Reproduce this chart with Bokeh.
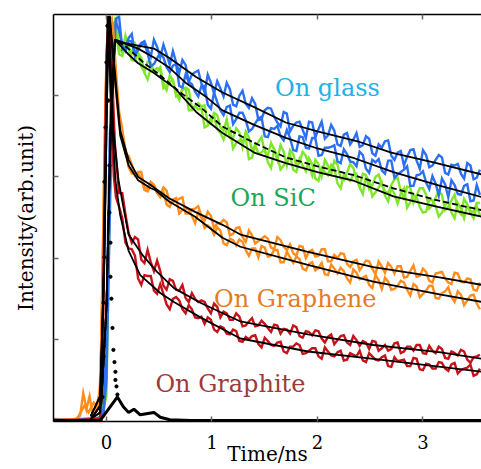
from bokeh.plotting import figure
from bokeh.models import Range1d, LinearAxis, FixedTicker, Label
from bokeh.embed import file_html
from bokeh.resources import INLINE

# ---------------- data (time in ns, intensity in arb. units) ----------------
GRID_T = [0.12, 0.18, 0.24, 0.30, 0.36, 0.42, 0.48, 0.54, 0.60, 0.66,
          0.72, 0.78, 0.84, 0.90, 0.96, 1.02, 1.08, 1.14, 1.20, 1.26,
          1.32, 1.38, 1.44, 1.50, 1.56, 1.62, 1.68, 1.74, 1.80, 1.86,
          1.92, 1.98, 2.04, 2.10, 2.16, 2.22, 2.28, 2.34, 2.40, 2.46,
          2.52, 2.58, 2.64, 2.70, 2.76, 2.82, 2.88, 2.94, 3.00, 3.06,
          3.12, 3.18, 3.24, 3.30, 3.36, 3.42, 3.48, 3.54]
MID_T = [0.15, 0.21, 0.27, 0.33, 0.39, 0.45, 0.51, 0.57, 0.63, 0.69,
         0.75, 0.81, 0.87, 0.93, 0.99, 1.05, 1.11, 1.17, 1.23, 1.29,
         1.35, 1.41, 1.47, 1.53, 1.59, 1.65, 1.71, 1.77, 1.83, 1.89,
         1.95, 2.01, 2.07, 2.13, 2.19, 2.25, 2.31, 2.37, 2.43, 2.49,
         2.55, 2.61, 2.67, 2.73, 2.79, 2.85, 2.91, 2.97, 3.03, 3.09,
         3.15, 3.21, 3.27, 3.33, 3.39, 3.45, 3.51]

# On glass (blue), two measurements
glass1_t0 = [-0.52, -0.3, -0.1, -0.03, 0.0, 0.03, 0.06, 0.09]
glass1_v0 = [0.02, 0.01, 0.03, 0.05, 0.5, 2.4, 4.2, 4.95]
glass1_v = [4.97, 4.59, 4.76, 4.60, 4.67, 4.48, 4.60, 4.63, 4.38, 4.41,
            4.44, 4.17, 4.29, 4.15, 4.26, 4.03, 4.09, 4.16, 3.89, 4.00,
            3.90, 3.97, 3.70, 3.82, 3.84, 3.67, 3.80, 3.56, 3.67, 3.58,
            3.68, 3.49, 3.68, 3.51, 3.57, 3.38, 3.54, 3.46, 3.37, 3.50,
            3.29, 3.40, 3.44, 3.26, 3.30, 3.14, 3.33, 3.20, 3.33, 3.12,
            3.21, 3.24, 3.03, 3.14, 3.04, 3.17, 2.97, 3.09]
glass1_m = [4.57, 4.71, 4.50, 4.65, 4.57, 4.69, 4.47, 4.51, 4.55, 4.28,
            4.38, 4.26, 4.31, 4.04, 4.16, 4.18, 3.99, 4.08, 3.87, 4.06,
            3.85, 3.90, 3.71, 3.85, 3.74, 3.62, 3.78, 3.63, 3.68, 3.48,
            3.67, 3.59, 3.47, 3.64, 3.40, 3.52, 3.40, 3.54, 3.39, 3.47,
            3.26, 3.36, 3.45, 3.21, 3.32, 3.25, 3.34, 3.10, 3.27, 3.14,
            3.27, 3.05, 3.15, 3.16, 2.98, 3.14, 2.99]
glass2_t0 = [-0.52, -0.25, -0.08, -0.03, 0.0, 0.03, 0.06, 0.09]
glass2_v0 = [0.01, 0.02, 0.02, 0.08, 1.2, 3.4, 4.7, 4.9]
glass2_v = [4.81, 4.55, 4.67, 4.57, 4.64, 4.36, 4.46, 4.47, 4.29, 4.39,
            4.10, 4.17, 4.05, 4.12, 3.89, 4.04, 3.82, 3.86, 3.65, 3.79,
            3.70, 3.59, 3.72, 3.50, 3.60, 3.63, 3.45, 3.48, 3.32, 3.49,
            3.35, 3.48, 3.27, 3.36, 3.39, 3.17, 3.28, 3.18, 3.31, 3.10,
            3.21, 3.22, 3.04, 3.20, 3.03, 3.09, 2.89, 3.02, 3.07, 2.85,
            2.92, 2.98, 2.75, 2.90, 2.78, 2.91, 2.71, 2.78]
glass2_m = [4.62, 4.67, 4.49, 4.63, 4.52, 4.39, 4.53, 4.35, 4.37, 4.12,
            4.26, 4.14, 3.99, 4.12, 3.84, 3.92, 3.76, 3.88, 3.71, 3.79,
            3.56, 3.66, 3.74, 3.49, 3.59, 3.50, 3.58, 3.33, 3.50, 3.36,
            3.48, 3.26, 3.36, 3.37, 3.19, 3.34, 3.19, 3.13, 3.27, 3.05,
            3.18, 3.08, 3.20, 2.99, 3.06, 3.13, 2.89, 3.03, 2.93, 3.01,
            2.77, 2.91, 2.96, 2.79, 2.89, 2.70, 2.90]

# On SiC (green)
sic1_t0 = [-0.52, -0.2, -0.05, 0.0, 0.02, 0.04, 0.07, 0.10]
sic1_v0 = [0.01, 0.01, 0.02, 0.3, 1.8, 3.5, 4.6, 4.9]
sic1_v = [4.58, 4.74, 4.52, 4.53, 4.29, 4.41, 4.29, 4.16, 4.25, 3.99,
          4.07, 4.07, 3.87, 3.87, 3.66, 3.79, 3.61, 3.71, 3.48, 3.55,
          3.56, 3.33, 3.43, 3.31, 3.42, 3.21, 3.31, 3.33, 3.14, 3.31,
          3.14, 3.21, 3.01, 3.14, 3.20, 2.98, 3.05, 3.11, 2.88, 3.02,
          2.90, 3.03, 2.82, 2.90, 2.99, 2.74, 2.87, 2.77, 2.86, 2.61,
          2.74, 2.78, 2.63, 2.78, 2.54, 2.66, 2.57, 2.68]
sic1_m = [4.53, 4.60, 4.64, 4.36, 4.42, 4.30, 4.35, 4.07, 4.19, 4.01,
          4.10, 3.85, 3.91, 3.88, 3.65, 3.76, 3.57, 3.48, 3.60, 3.37,
          3.49, 3.39, 3.49, 3.27, 3.33, 3.39, 3.14, 3.28, 3.18, 3.26,
          3.02, 3.16, 3.21, 3.04, 3.15, 2.96, 3.16, 2.97, 3.04, 2.85,
          3.00, 2.91, 2.80, 2.97, 2.82, 2.88, 2.68, 2.86, 2.78, 2.66,
          2.83, 2.59, 2.71, 2.59, 2.73, 2.58, 2.68]
sic2_t0 = [-0.52, -0.2, -0.05, 0.0, 0.02, 0.05, 0.08]
sic2_v0 = [0.0, 0.01, 0.01, 0.5, 2.4, 4.2, 4.85]
sic2_v = [4.51, 4.63, 4.44, 4.52, 4.28, 4.34, 4.34, 4.09, 4.17, 4.03,
          4.09, 3.82, 3.87, 3.85, 3.63, 3.75, 3.54, 3.58, 3.35, 3.45,
          3.48, 3.24, 3.29, 3.35, 3.11, 3.25, 3.14, 3.27, 3.06, 3.14,
          3.23, 2.98, 3.11, 3.02, 3.11, 2.86, 2.99, 3.03, 2.87, 3.01,
          2.76, 2.87, 2.77, 2.86, 2.67, 2.86, 2.69, 2.75, 2.56, 2.72,
          2.64, 2.56, 2.70, 2.49, 2.61, 2.66, 2.49, 2.53]
sic2_m = [4.49, 4.57, 4.43, 4.47, 4.20, 4.31, 4.32, 4.12, 4.19, 3.95,
          4.08, 3.82, 3.83, 3.61, 3.73, 3.59, 3.46, 3.60, 3.42, 3.45,
          3.22, 3.39, 3.30, 3.18, 3.34, 3.09, 3.21, 3.09, 3.22, 3.07,
          3.16, 2.95, 3.06, 3.15, 2.92, 3.03, 2.95, 3.04, 2.79, 2.95,
          2.81, 2.93, 2.70, 2.79, 2.80, 2.62, 2.78, 2.63, 2.57, 2.71,
          2.51, 2.65, 2.56, 2.68, 2.49, 2.56, 2.64]

# On graphene (orange)
gr1_t0 = [-0.52, -0.3, -0.25, -0.22, -0.19, -0.16, -0.13, -0.1, -0.06,
          -0.04, -0.02, 0.0, 0.03, 0.06, 0.09]
gr1_v0 = [0.01, 0.01, 0.06, 0.34, 0.14, 0.30, 0.06, 0.12, 0.4,
          1.6, 3.2, 4.5, 4.98, 4.9, 4.3]
gr1_v = [3.80, 3.28, 3.15, 3.06, 2.87, 2.94, 2.81, 2.87, 2.68, 2.71,
         2.75, 2.55, 2.61, 2.52, 2.57, 2.37, 2.43, 2.44, 2.30, 2.38,
         2.20, 2.28, 2.21, 2.27, 2.13, 2.26, 2.14, 2.17, 2.03, 2.14,
         2.08, 2.02, 2.11, 1.96, 2.04, 2.06, 1.93, 1.96, 1.85, 1.97,
         1.87, 1.96, 1.82, 1.89, 1.90, 1.76, 1.84, 1.77, 1.87, 1.72,
         1.81, 1.83, 1.70, 1.82, 1.71, 1.75, 1.61, 1.70]
gr1_m = [3.59, 3.26, 3.02, 3.06, 2.86, 2.90, 2.78, 2.83, 2.69, 2.73,
         2.55, 2.60, 2.64, 2.46, 2.52, 2.43, 2.47, 2.28, 2.37, 2.26,
         2.34, 2.18, 2.24, 2.24, 2.11, 2.22, 2.10, 2.06, 2.15, 2.00,
         2.10, 2.03, 2.11, 1.96, 2.00, 2.05, 1.89, 1.98, 1.91, 1.96,
         1.80, 1.90, 1.94, 1.81, 1.90, 1.77, 1.91, 1.78, 1.83, 1.70,
         1.82, 1.75, 1.68, 1.81, 1.70, 1.74, 1.60]
gr2_t0 = [-0.52, -0.28, -0.21, -0.17, -0.12, -0.07, -0.05, -0.03, -0.01,
          0.02, 0.05, 0.08]
gr2_v0 = [0.0, 0.02, 0.18, 0.10, 0.22, 0.15, 0.9, 2.4, 3.9, 4.9, 4.95, 4.2]
gr2_v = [3.66, 3.34, 3.04, 3.04, 2.84, 2.89, 2.80, 2.81, 2.63, 2.74,
         2.59, 2.60, 2.43, 2.50, 2.40, 2.29, 2.34, 2.16, 2.22, 2.23,
         2.10, 2.12, 2.01, 2.13, 2.03, 2.10, 1.95, 2.01, 2.02, 1.87,
         1.93, 1.85, 1.94, 1.79, 1.87, 1.88, 1.75, 1.86, 1.74, 1.78,
         1.63, 1.73, 1.76, 1.61, 1.66, 1.70, 1.54, 1.65, 1.56, 1.66,
         1.51, 1.57, 1.64, 1.46, 1.55, 1.48, 1.55, 1.37]
gr2_m = [3.55, 3.12, 3.04, 2.98, 2.82, 2.90, 2.75, 2.66, 2.72, 2.55,
         2.61, 2.52, 2.56, 2.37, 2.37, 2.38, 2.18, 2.24, 2.16, 2.20,
         2.03, 2.12, 2.15, 2.02, 2.10, 1.95, 2.08, 1.94, 1.99, 1.85,
         1.95, 1.88, 1.80, 1.92, 1.81, 1.84, 1.70, 1.82, 1.76, 1.67,
         1.79, 1.62, 1.71, 1.62, 1.72, 1.61, 1.68, 1.52, 1.60, 1.66,
         1.50, 1.59, 1.52, 1.59, 1.42, 1.54, 1.44]

# On graphite (red)
gt1_t0 = [-0.52, -0.2, -0.06, -0.04, -0.02, 0.0, 0.02, 0.05, 0.08, 0.10]
gt1_v0 = [0.0, 0.01, 0.02, 0.5, 2.2, 4.1, 4.98, 4.4, 3.4, 3.1]
gt1_v = [2.80, 2.54, 2.19, 2.23, 1.94, 1.95, 1.97, 1.66, 1.74, 1.61,
         1.67, 1.46, 1.50, 1.48, 1.38, 1.44, 1.27, 1.32, 1.24, 1.28,
         1.17, 1.26, 1.17, 1.19, 1.09, 1.17, 1.13, 1.07, 1.15, 1.02,
         1.09, 1.11, 1.01, 1.03, 0.94, 1.04, 0.96, 1.04, 0.92, 0.96,
         0.98, 0.86, 0.93, 0.88, 0.96, 0.85, 0.91, 0.93, 0.83, 0.92,
         0.83, 0.88, 0.76, 0.83, 0.87, 0.75, 0.78, 0.81]
gt1_m = [2.80, 2.31, 2.26, 1.98, 2.10, 1.84, 1.84, 1.61, 1.72, 1.60,
         1.51, 1.57, 1.46, 1.46, 1.32, 1.40, 1.34, 1.24, 1.32, 1.16,
         1.22, 1.16, 1.23, 1.14, 1.18, 1.07, 1.12, 1.17, 1.04, 1.10,
         1.05, 1.10, 0.96, 1.06, 0.99, 1.05, 0.93, 0.99, 0.98, 0.88,
         0.97, 0.89, 0.86, 0.95, 0.83, 0.91, 0.86, 0.93, 0.82, 0.86,
         0.91, 0.77, 0.85, 0.80, 0.85, 0.71, 0.79]
gt2_t0 = [-0.52, -0.2, -0.06, -0.04, -0.02, 0.0, 0.02, 0.04, 0.07, 0.09]
gt2_v0 = [0.0, 0.01, 0.02, 0.7, 2.6, 4.5, 4.98, 4.0, 3.0, 2.75]
gt2_v = [2.63, 2.19, 2.11, 1.75, 1.79, 1.78, 1.56, 1.56, 1.37, 1.52,
         1.37, 1.42, 1.27, 1.28, 1.27, 1.12, 1.16, 1.07, 1.12, 0.98,
         1.03, 1.04, 0.94, 1.02, 0.93, 0.96, 0.85, 0.91, 0.95, 0.82,
         0.86, 0.89, 0.76, 0.85, 0.79, 0.86, 0.75, 0.81, 0.86, 0.72,
         0.79, 0.74, 0.80, 0.66, 0.73, 0.75, 0.67, 0.76, 0.62, 0.69,
         0.64, 0.71, 0.61, 0.71, 0.62, 0.65, 0.55, 0.64]
gt2_m = [2.49, 2.12, 2.03, 1.67, 1.78, 1.60, 1.68, 1.43, 1.50, 1.48,
         1.32, 1.37, 1.26, 1.19, 1.24, 1.09, 1.14, 1.06, 1.10, 0.97,
         1.00, 1.05, 0.90, 0.98, 0.92, 0.97, 0.83, 0.91, 0.93, 0.83,
         0.89, 0.79, 0.90, 0.80, 0.84, 0.74, 0.83, 0.79, 0.74, 0.83,
         0.75, 0.78, 0.67, 0.78, 0.74, 0.67, 0.77, 0.63, 0.70, 0.64,
         0.72, 0.64, 0.69, 0.58, 0.64, 0.69, 0.57]

# fitted decay curves (black)
fit_glass1_t = [-0.15, -0.05, 0.0, 0.04, 0.08, 0.2, 0.45, 0.6, 0.85, 1.1, 1.4, 1.7, 2.0, 2.4, 2.7, 3.1, 3.56]
fit_glass1_v = [0.01, 0.2, 1.4, 3.6, 4.69, 4.64, 4.58, 4.46, 4.23, 4.04, 3.86, 3.67, 3.56, 3.43, 3.30, 3.18, 3.03]
fit_glass2_t = [-0.15, -0.05, 0.0, 0.04, 0.08, 0.2, 0.3, 0.45, 0.6, 0.75, 0.95, 1.1, 1.4, 1.7, 2.0, 2.35, 2.72, 3.14, 3.56]
fit_glass2_v = [0.01, 0.2, 1.4, 3.6, 4.69, 4.63, 4.58, 4.47, 4.34, 4.16, 3.98, 3.82, 3.64, 3.48, 3.35, 3.23, 3.06, 2.90, 2.75]
fit_sic1_t = [-0.15, -0.05, 0.0, 0.04, 0.08, 0.2, 0.35, 0.5, 0.7, 0.9, 1.1, 1.4, 1.7, 2.0, 2.35, 2.72, 3.14, 3.56]
fit_sic1_v = [0.01, 0.2, 1.4, 3.6, 4.69, 4.59, 4.41, 4.26, 4.04, 3.85, 3.62, 3.42, 3.24, 3.13, 3.02, 2.86, 2.71, 2.59]
fit_sic2_t = [-0.15, -0.05, 0.0, 0.04, 0.08, 0.2, 0.3, 0.45, 0.65, 0.85, 1.1, 1.4, 1.7, 2.0, 2.35, 2.72, 3.14, 3.56]
fit_sic2_v = [0.01, 0.2, 1.4, 3.6, 4.69, 4.52, 4.40, 4.28, 4.09, 3.80, 3.54, 3.30, 3.17, 3.06, 2.95, 2.76, 2.63, 2.51]
fit_gr1_t = [-0.15, -0.06, -0.02, 0.01, 0.03, 0.08, 0.13, 0.21, 0.3, 0.42, 0.46, 0.59, 0.84, 1.1, 1.27, 1.9, 2.53, 3.17, 3.56]
fit_gr1_v = [0.05, 0.3, 2.0, 4.3, 4.98, 4.3, 3.57, 3.21, 3.00, 2.90, 2.86, 2.74, 2.57, 2.41, 2.29, 2.08, 1.89, 1.76, 1.67]
fit_gr2_t = [-0.15, -0.06, -0.02, 0.01, 0.03, 0.08, 0.13, 0.21, 0.3, 0.42, 0.46, 0.59, 0.84, 1.1, 1.27, 1.9, 2.53, 3.17, 3.56]
fit_gr2_v = [0.05, 0.3, 2.0, 4.3, 4.98, 4.2, 3.51, 3.14, 2.96, 2.86, 2.84, 2.70, 2.51, 2.25, 2.14, 1.92, 1.71, 1.55, 1.46]
fit_gt1_t = [-0.15, -0.06, -0.03, 0.0, 0.02, 0.066, 0.114, 0.16, 0.21, 0.34, 0.48, 0.64, 0.89, 1.27, 1.91, 2.53, 3.17, 3.56]
fit_gt1_v = [0.02, 0.1, 1.5, 4.0, 4.98, 3.57, 2.96, 2.63, 2.29, 2.04, 1.83, 1.63, 1.45, 1.22, 1.06, 0.93, 0.84, 0.76]
fit_gt2_t = [-0.15, -0.06, -0.03, 0.0, 0.01, 0.057, 0.085, 0.13, 0.21, 0.32, 0.51, 0.64, 0.89, 1.27, 1.91, 2.53, 3.17, 3.56]
fit_gt2_v = [0.02, 0.1, 1.5, 4.0, 4.98, 3.57, 2.96, 2.53, 2.09, 1.79, 1.57, 1.46, 1.27, 1.01, 0.85, 0.76, 0.66, 0.60]

# instrument response (black dots + tail)
irf_t = [-0.057, -0.038, -0.028, -0.028, -0.019, -0.019, -0.009, 0.0, 0.009,
         0.019, 0.019, 0.028, 0.028, 0.038, 0.038, 0.047, 0.057, 0.066,
         0.076, 0.085, 0.085, 0.095, 0.104]
irf_v = [0.0, 0.29, 0.79, 1.45, 2.01, 2.94, 3.61, 4.41, 4.86,
         4.62, 3.94, 3.14, 2.56, 2.19, 1.77, 1.50, 1.14, 0.87,
         0.72, 0.60, 0.50, 0.42, 0.32]
irf_tail_t = [-0.52, -0.06, 0.104, 0.16, 0.21, 0.26, 0.32, 0.45, 0.51, 0.6, 0.8, 3.56]
irf_tail_v = [0.0, 0.0, 0.29, 0.17, 0.10, 0.14, 0.07, 0.10, 0.04, 0.01, 0.0, 0.0]

labels = ["On glass", "On SiC", "On Graphene", "On Graphite"]
label_t = [2.095, 1.58, 1.79, 1.175]
label_v = [4.10, 2.74, 1.50, 0.45]

x_title = "Time/ns"
y_title = "Intensity(arb.unit)"

x_ticks = [0, 1, 2, 3]
y_ticks = [1, 2, 3, 4]


def merge(t0, v0, vg, vm):
    t = list(t0)
    v = list(v0)
    for i in range(len(GRID_T)):
        t.append(GRID_T[i])
        v.append(vg[i])
        if i < len(MID_T):
            t.append(MID_T[i])
            v.append(vm[i])
    return t, v


# ---------------- figure ----------------
SERIF = "DejaVu Serif"
p = figure(width=481, height=469, output_backend="svg", toolbar_location=None,
           x_range=Range1d(-0.502, 3.555), y_range=Range1d(-0.012, 5.0),
           min_border_left=53, min_border_right=0, min_border_top=14,
           min_border_bottom=48, x_axis_location=None, y_axis_location=None)
p.outline_line_color = None
p.xgrid.visible = False
p.ygrid.visible = False
p.background_fill_color = "white"

xb = LinearAxis(ticker=FixedTicker(ticks=x_ticks), axis_label=x_title)
xt = LinearAxis(ticker=FixedTicker(ticks=x_ticks))
yl = LinearAxis(ticker=FixedTicker(ticks=y_ticks), axis_label=y_title)
for ax in (xb, xt, yl):
    ax.major_tick_in = 5
    ax.major_tick_out = 0
    ax.minor_tick_line_color = None
    ax.major_tick_line_color = "#666666"
    ax.major_tick_line_width = 1.5
    ax.axis_line_color = "black"
    ax.axis_line_width = 1.5
    ax.axis_label_text_font = SERIF
    ax.axis_label_text_font_style = "normal"
    ax.axis_label_text_font_size = "20px"
    ax.axis_label_text_color = "black"
    ax.major_label_text_font = SERIF
    ax.major_label_text_color = "black"
xb.major_label_text_font_size = "18px"
xb.major_label_standoff = 13
xb.axis_label_standoff = -10
for ax in (xt, yl):
    ax.major_label_text_font_size = "0px"
    ax.major_label_text_color = None
    ax.major_label_standoff = 0
yl.axis_label_standoff = 16
p.add_layout(xb, "below")
p.add_layout(xt, "above")
p.add_layout(yl, "left")

BLUE = "#2b6ff2"
GREEN = "#80e62c"
ORANGE = "#ff8d1e"
RED = "#c8121a"

traces = [
    (merge(sic1_t0, sic1_v0, sic1_v, sic1_m), GREEN),
    (merge(sic2_t0, sic2_v0, sic2_v, sic2_m), GREEN),
    (merge(glass1_t0, glass1_v0, glass1_v, glass1_m), BLUE),
    (merge(glass2_t0, glass2_v0, glass2_v, glass2_m), BLUE),
    (merge(gr1_t0, gr1_v0, gr1_v, gr1_m), ORANGE),
    (merge(gr2_t0, gr2_v0, gr2_v, gr2_m), ORANGE),
    (merge(gt1_t0, gt1_v0, gt1_v, gt1_m), RED),
    (merge(gt2_t0, gt2_v0, gt2_v, gt2_m), RED),
]
for (tt, vv), c in traces:
    p.line(tt, vv, line_color=c, line_width=2.4, line_join="miter")

fits = [
    (fit_glass1_t, fit_glass1_v, "solid"),
    (fit_glass2_t, fit_glass2_v, "solid"),
    (fit_sic1_t, fit_sic1_v, "6 3"),
    (fit_sic2_t, fit_sic2_v, "solid"),
    (fit_gr1_t, fit_gr1_v, "solid"),
    (fit_gr2_t, fit_gr2_v, "solid"),
    (fit_gt1_t, fit_gt1_v, "solid"),
    (fit_gt2_t, fit_gt2_v, "solid"),
]
for tt, vv, dash in fits:
    p.line(tt, vv, line_color="black", line_width=1.8, line_dash=dash)

p.line(irf_tail_t, irf_tail_v, line_color="black", line_width=3)
p.scatter(irf_t, irf_v, size=3.2, color="black")

label_colors = ["#1fb2e8", "#19a85a", "#e47b26", "#9e3b3b"]
for txt, lt, lv, col in zip(labels, label_t, label_v, label_colors):
    p.add_layout(Label(x=lt, y=lv, text=txt, text_align="center",
                       text_baseline="alphabetic", text_font=SERIF,
                       text_font_size="24px", text_color=col))

open("out.html", "w").write(file_html(p, INLINE))
